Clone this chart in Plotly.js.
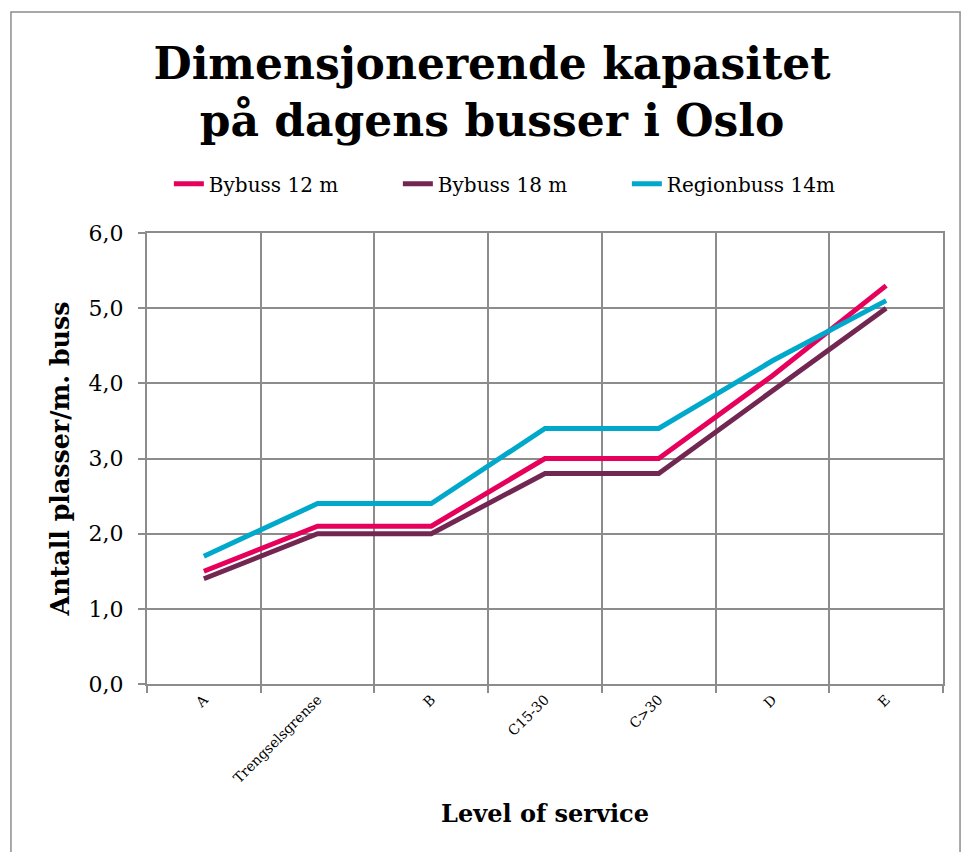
<!DOCTYPE html>
<html>
<head>
<meta charset="utf-8">
<script src="https://cdn.plot.ly/plotly-3.0.1.min.js"></script>
<style>html,body{margin:0;padding:0;background:#fff;}#chart{width:961px;height:852px;}</style>
</head>
<body>
<div id="chart"></div>
<script>
const categories = ["A", "Trengselsgrense", "B", "C15-30", "C>30", "D", "E"];
const bybuss12 = [1.5, 2.1, 2.1, 3.0, 3.0, 4.1, 5.3];
const bybuss18 = [1.4, 2.0, 2.0, 2.8, 2.8, 3.9, 5.0];
const regionbuss14 = [1.7, 2.4, 2.4, 3.4, 3.4, 4.3, 5.1];
const seriesNames = ["Bybuss 12 m", "Bybuss 18 m", "Regionbuss 14m"];
const yTicks = [0, 1, 2, 3, 4, 5, 6];

const font = "DejaVu Serif, Georgia, serif";
const colors = ["#e6005c", "#722752", "#00a8cc"];
const data = [bybuss12, bybuss18, regionbuss14].map((vals, i) => ({
  type: "scatter", mode: "lines", x: categories, y: vals, name: seriesNames[i],
  line: {color: colors[i], width: 5}
}));

const layout = {
  width: 961, height: 852,
  margin: {l: 147, r: 18, t: 233, b: 168},
  paper_bgcolor: "#fff", plot_bgcolor: "#fff",
  separators: ", ",
  font: {family: font, color: "#000"},
  title: {
    text: "<b>Dimensjonerende kapasitet<br>på dagens busser i Oslo</b>",
    font: {family: font, size: 44, color: "#000"},
    xref: "container", x: 0.512, xanchor: "center",
    yref: "container", y: 0.907, yanchor: "top"
  },
  showlegend: true,
  legend: {
    orientation: "h", x: 0.459, xanchor: "center", y: 1.109, yanchor: "middle",
    font: {family: font, size: 20, color: "#000"},
    entrywidth: 184, entrywidthmode: "pixels", tracegroupgap: 0
  },
  xaxis: {
    type: "category", range: [-0.5, 6.5],
    tickson: "boundaries", ticks: "outside", ticklen: 7, tickcolor: "#8c8c8c", tickwidth: 2,
    showgrid: true, gridcolor: "#8c8c8c", gridwidth: 2,
    showline: true, linecolor: "#8c8c8c", linewidth: 2, mirror: true,
    tickangle: -45, tickfont: {family: font, size: 14, color: "#000"},
    title: {text: "<b>Level of service</b>", font: {family: font, size: 24, color: "#000"}, standoff: 20},
    zeroline: false, fixedrange: true
  },
  yaxis: {
    range: [0, 6], tickvals: yTicks, tickformat: ".1f",
    ticks: "outside", ticklen: 7, tickcolor: "#8c8c8c", tickwidth: 2, ticklabelstandoff: 10,
    showgrid: true, gridcolor: "#8c8c8c", gridwidth: 2,
    showline: true, linecolor: "#8c8c8c", linewidth: 2, mirror: true,
    tickfont: {family: font, size: 22, color: "#000"},
    title: {text: "<b>Antall plasser/m. buss</b>", font: {family: font, size: 25.3, color: "#000"}, standoff: 12},
    zeroline: false, fixedrange: true
  },
  shapes: [{
    type: "rect", xref: "paper", yref: "paper",
    x0: -0.1709, x1: 1.0214, y0: -0.45, y1: 1.49,
    line: {color: "#8c8c8c", width: 1.5}, fillcolor: "rgba(0,0,0,0)", layer: "below"
  }]
};

Plotly.newPlot("chart", data, layout, {displayModeBar: false, staticPlot: true});
</script>
</body>
</html>
